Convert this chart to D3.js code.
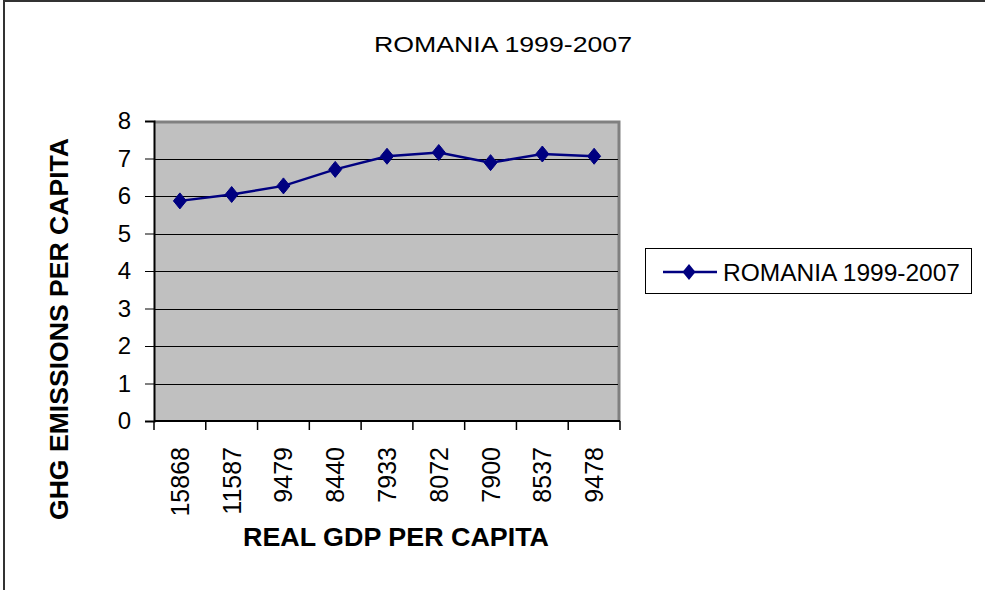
<!DOCTYPE html>
<html>
<head>
<meta charset="utf-8">
<script src="https://cdn.jsdelivr.net/npm/d3@7"></script>
<style>
  body { margin: 0; background: #fff; }
  svg { display: block; font-family: "Liberation Sans", Arial, sans-serif; }
</style>
</head>
<body>
<svg id="chart" width="985" height="590"></svg>
<script>
// chart data
var gdpLabels = ["15868", "11587", "9479", "8440", "7933", "8072", "7900", "8537", "9478"];
var ghgValues = [5.87, 6.04, 6.27, 6.71, 7.06, 7.16, 6.89, 7.12, 7.06];
var yTicks = [0, 1, 2, 3, 4, 5, 6, 7, 8];
var seriesName = "ROMANIA 1999-2007";

(function () {
  'use strict';
  var svg = d3.select('#chart');
  var plot = { left: 154, top: 121, right: 620, bottom: 421 };

  // outer frame
  svg.append('path')
    .attr('d', 'M4,590 V1 H985')
    .attr('fill', 'none')
    .attr('stroke', '#333')
    .attr('stroke-width', 2);

  var x = d3.scaleBand().domain(gdpLabels).range([plot.left, plot.right]);
  var y = d3.scaleLinear().domain([0, 8]).range([plot.bottom, plot.top]);

  // plot background
  svg.append('rect')
    .attr('x', plot.left).attr('y', plot.top)
    .attr('width', plot.right - plot.left).attr('height', plot.bottom - plot.top)
    .attr('fill', '#c0c0c0');
  svg.append('path')
    .attr('d', 'M' + plot.left + ',' + (plot.top + 1) + ' H' + (plot.right - 1) + ' V' + plot.bottom)
    .attr('fill', 'none').attr('stroke', '#808080').attr('stroke-width', 3);

  // gridlines
  svg.append('g').selectAll('line')
    .data(yTicks.filter(function (d) { return d > 0 && d < 8; }))
    .enter().append('line')
    .attr('x1', plot.left).attr('x2', plot.right - 2)
    .attr('y1', function (d) { return Math.round(y(d)) + 0.5; })
    .attr('y2', function (d) { return Math.round(y(d)) + 0.5; })
    .attr('stroke', '#000').attr('stroke-width', 1);

  // y axis
  var yAxis = svg.append('g')
    .attr('transform', 'translate(' + plot.left + ',0)')
    .call(d3.axisLeft(y).tickValues(yTicks).tickSize(9).tickPadding(14).tickFormat(d3.format('d')));
  yAxis.select('.domain').attr('stroke', '#000').attr('stroke-width', 2);
  yAxis.selectAll('.tick line').attr('stroke', '#000');
  yAxis.selectAll('.tick text').attr('font-size', 24).attr('fill', '#000')
    .attr('font-family', '"Liberation Sans", Arial, sans-serif');

  // x axis (ticks on category boundaries)
  var xAxis = svg.append('g')
    .attr('transform', 'translate(0,' + plot.bottom + ')');
  xAxis.append('line')
    .attr('x1', plot.left).attr('x2', plot.right)
    .attr('stroke', '#000').attr('stroke-width', 2);
  var bounds = gdpLabels.map(function (d) { return x(d); }).concat([plot.right]);
  xAxis.selectAll('line.tk').data(bounds).enter().append('line')
    .attr('class', 'tk')
    .attr('x1', function (d) { return d; }).attr('x2', function (d) { return d; })
    .attr('y1', 0).attr('y2', 9)
    .attr('stroke', '#000').attr('stroke-width', 1.5);
  xAxis.selectAll('text').data(gdpLabels).enter().append('text')
    .attr('transform', function (d) {
      return 'translate(' + (x(d) + x.bandwidth() / 2 + 9) + ',26) rotate(-90)';
    })
    .attr('text-anchor', 'end')
    .attr('font-size', 25)
    .attr('fill', '#000')
    .text(function (d) { return d; });

  // line + markers
  var line = d3.line()
    .x(function (d, i) { return x(gdpLabels[i]) + x.bandwidth() / 2; })
    .y(function (d) { return y(d); });
  svg.append('path')
    .datum(ghgValues)
    .attr('d', line)
    .attr('fill', 'none')
    .attr('stroke', '#000080')
    .attr('stroke-width', 2.5);

  var diamond = 'M0,-8 L6.5,0 L0,8 L-6.5,0 Z';
  svg.append('g').selectAll('path')
    .data(ghgValues).enter().append('path')
    .attr('d', diamond)
    .attr('transform', function (d, i) {
      return 'translate(' + (x(gdpLabels[i]) + x.bandwidth() / 2) + ',' + y(d) + ')';
    })
    .attr('fill', '#000080')
    .attr('stroke', '#000080').attr('stroke-width', 1).attr('stroke-linejoin', 'round');

  // titles
  svg.append('text')
    .attr('x', 503).attr('y', 52)
    .attr('text-anchor', 'middle')
    .attr('font-size', 22)
    .attr('textLength', 258).attr('lengthAdjust', 'spacingAndGlyphs')
    .text(seriesName);

  svg.append('text')
    .attr('x', 396).attr('y', 546)
    .attr('text-anchor', 'middle')
    .attr('font-size', 26).attr('font-weight', 'bold')
    .attr('textLength', 306).attr('lengthAdjust', 'spacingAndGlyphs')
    .text('REAL GDP PER CAPITA');

  svg.append('text')
    .attr('transform', 'translate(68,329) rotate(-90)')
    .attr('text-anchor', 'middle')
    .attr('font-size', 26).attr('font-weight', 'bold')
    .attr('textLength', 382).attr('lengthAdjust', 'spacingAndGlyphs')
    .text('GHG EMISSIONS PER CAPITA');

  // legend
  var lg = svg.append('g');
  lg.append('rect')
    .attr('x', 645.5).attr('y', 248.5).attr('width', 326).attr('height', 45)
    .attr('fill', '#fff').attr('stroke', '#000').attr('stroke-width', 1);
  lg.append('line')
    .attr('x1', 663).attr('x2', 717).attr('y1', 272).attr('y2', 272)
    .attr('stroke', '#000080').attr('stroke-width', 2.5);
  lg.append('path')
    .attr('d', diamond)
    .attr('transform', 'translate(689,272)')
    .attr('fill', '#000080');
  lg.append('text')
    .attr('x', 723).attr('y', 281)
    .attr('font-size', 23)
    .attr('textLength', 237).attr('lengthAdjust', 'spacingAndGlyphs')
    .text(seriesName);
})();
</script>
</body>
</html>
